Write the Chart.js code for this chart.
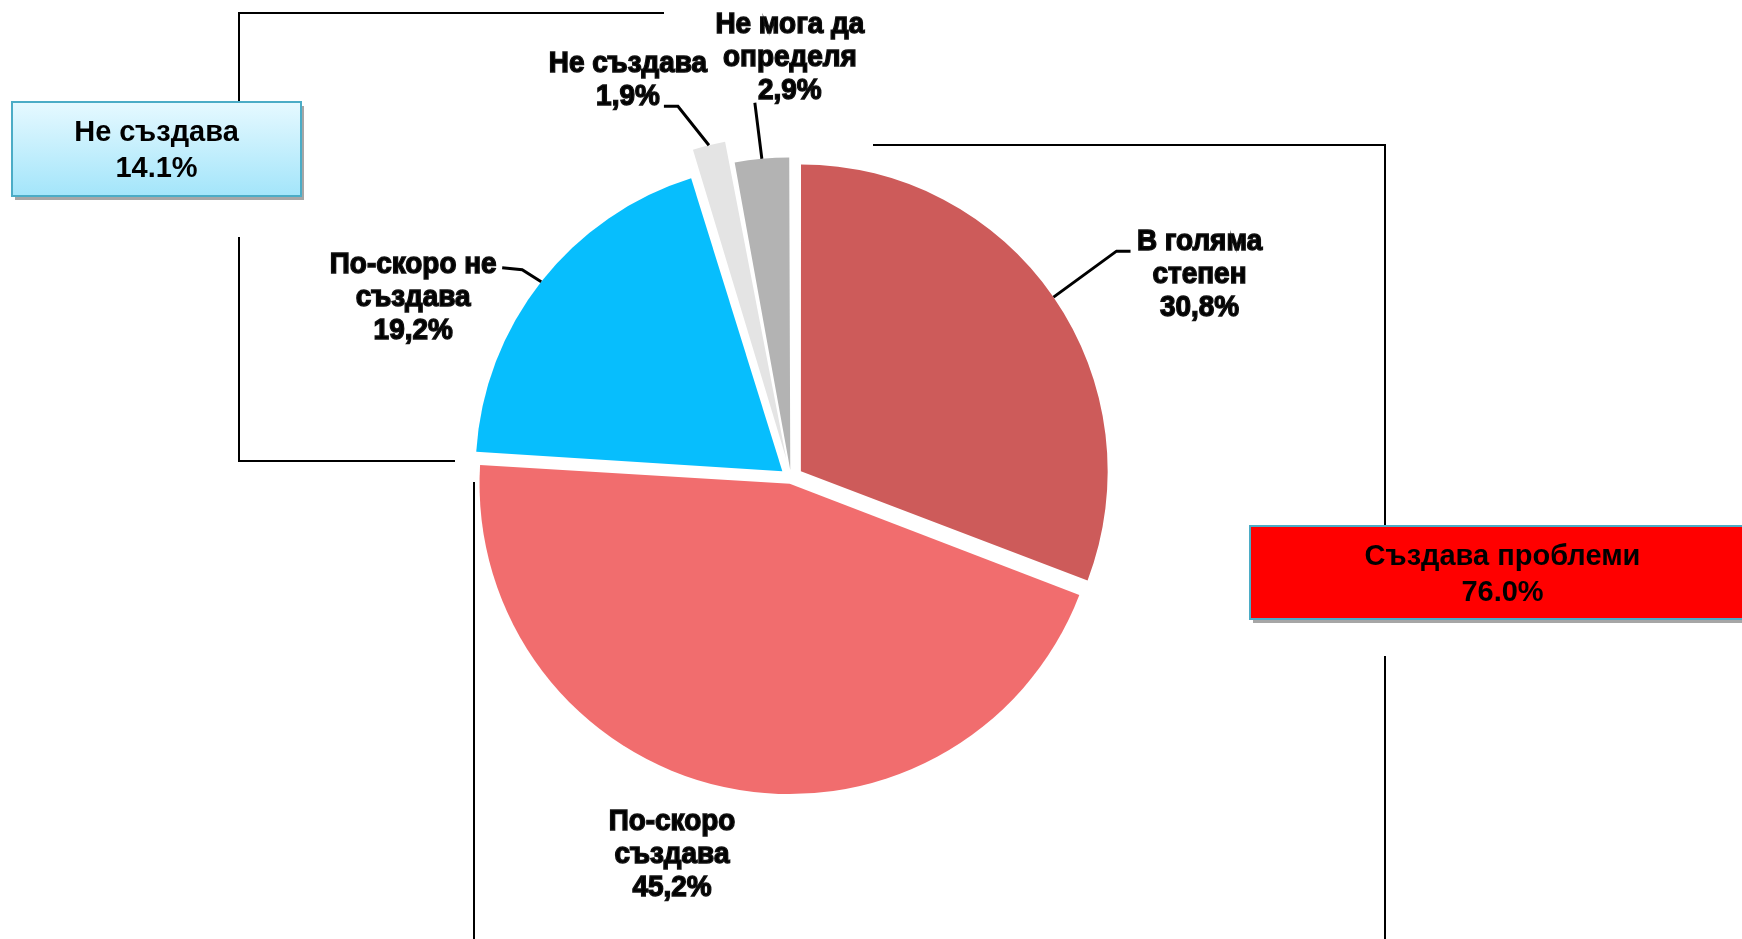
<!DOCTYPE html>
<html>
<head>
<meta charset="utf-8">
<script src="https://cdn.jsdelivr.net/npm/chart.js@4/dist/chart.umd.min.js"></script>
<style>
html, body { margin: 0; padding: 0; background: #fff; overflow: hidden; }
#wrap { width: 1742px; height: 939px; }
</style>
</head>
<body>
<div id="wrap"><canvas id="myChart"></canvas></div>
<script>
// data
var categories = [["В голяма", "степен"], ["По-скоро", "създава"], ["По-скоро не", "създава"], ["Не създава"], ["Не мога да", "определя"]];
var values = [30.8, 45.2, 19.2, 1.9, 2.9];
var groupNames = ["Не създава", "Създава проблеми"];
var groupValues = [14.1, 76.0];

var colors = ['#CD5B5A', '#F16D6E', '#07BEFD', '#E4E4E4', '#B3B3B3'];
var explode = [48, 24, 44, 78, 32];

// label placement relative to the outer edge of each slice
var labelPos = [
    {dx: 146, dy: -22, leader: [[63, -46], [77, -46]]},
    {dx: -52, dy: 68, leader: []},
    {dx: -128, dy: 16, leader: [[-19, -12], [-39, -14]]},
    {dx: -81, dy: -65, leader: [[-31, -39], [-45, -39]]},
    {dx: 28, dy: -101, leader: [[-7, -56]]}
];

function pct(v, sep) {
    return v.toFixed(1).replace('.', sep) + '%';
}

var sliceLabels = {
    id: 'sliceLabels',
    afterDatasetsDraw: function(chart) {
        var ctx = chart.ctx;
        var meta = chart.getDatasetMeta(0);
        meta.data.forEach(function(arc, i) {
            var p = arc.getProps(['x', 'y', 'startAngle', 'endAngle', 'outerRadius', 'circumference'], true);
            var off = (arc.options.offset || 0) / 4;
            var fix = 1 - Math.sin(Math.min(Math.PI, p.circumference));
            var mid = (p.startAngle + p.endAngle) / 2;
            var d = off + p.outerRadius + off * fix;
            var ax = p.x + Math.cos(mid) * d;
            var ay = p.y + Math.sin(mid) * d;
            var lp = labelPos[i];

            ctx.save();
            if (lp.leader.length) {
                ctx.strokeStyle = '#000';
                ctx.lineWidth = 3;
                ctx.beginPath();
                ctx.moveTo(ax, ay);
                lp.leader.forEach(function(pt) { ctx.lineTo(ax + pt[0], ay + pt[1]); });
                ctx.stroke();
            }
            var lines = categories[i].concat([pct(values[i], ',')]);
            var lh = 33;
            var cx = ax + lp.dx;
            var cy = ay + lp.dy - (lines.length - 1) * lh / 2;
            ctx.font = 'bold 30px "Liberation Sans", Arial, sans-serif';
            ctx.textAlign = 'center';
            ctx.textBaseline = 'middle';
            ctx.fillStyle = '#000';
            ctx.strokeStyle = '#111';
            ctx.lineWidth = 1.5;
            lines.forEach(function(t, k) {
                ctx.save();
                ctx.translate(cx, cy + k * lh);
                ctx.scale(0.93, 1);
                ctx.fillText(t, 0, 0);
                ctx.strokeText(t, 0, 0);
                ctx.restore();
            });
            ctx.restore();
        });
    }
};

function drawBox(ctx, x, y, w, h, fill, lines) {
    ctx.fillStyle = '#A6A6A6';
    ctx.fillRect(x + 3, y + 4, w, h);
    ctx.fillStyle = fill;
    ctx.fillRect(x, y, w, h);
    ctx.strokeStyle = '#4BACC6';
    ctx.lineWidth = 2;
    ctx.strokeRect(x, y, w, h);
    ctx.fillStyle = '#000';
    ctx.font = 'bold 29px "Liberation Sans", Arial, sans-serif';
    ctx.textAlign = 'center';
    ctx.textBaseline = 'middle';
    var lh = 36;
    var cy = y + h / 2 + 2 - (lines.length - 1) * lh / 2;
    lines.forEach(function(t, k) { ctx.fillText(t, x + w / 2, cy + k * lh); });
}

var groups = {
    id: 'groups',
    afterDraw: function(chart) {
        var ctx = chart.ctx;
        ctx.save();
        ctx.strokeStyle = '#000';
        ctx.lineWidth = 2;
        ctx.beginPath();
        // left bracket
        ctx.moveTo(664, 13); ctx.lineTo(239, 13); ctx.lineTo(239, 102);
        ctx.moveTo(239, 237); ctx.lineTo(239, 461); ctx.lineTo(455, 461);
        // right bracket
        ctx.moveTo(873, 145); ctx.lineTo(1385, 145); ctx.lineTo(1385, 526);
        ctx.moveTo(1385, 656); ctx.lineTo(1385, 939);
        // bottom-left
        ctx.moveTo(474, 482); ctx.lineTo(474, 939);
        ctx.stroke();

        var g = ctx.createLinearGradient(0, 102, 0, 196);
        g.addColorStop(0, '#E6F9FF');
        g.addColorStop(1, '#A3E5FA');
        drawBox(ctx, 12, 102, 289, 94, g, [groupNames[0], pct(groupValues[0], '.')]);
        drawBox(ctx, 1250, 526, 505, 93, '#FF0000', [groupNames[1], pct(groupValues[1], '.')]);
        ctx.restore();
    }
};

var ctx = document.getElementById('myChart');
var myChart = new Chart(ctx, {
    type: 'pie',
    data: {
        labels: categories,
        datasets: [{
            data: values,
            backgroundColor: colors,
            borderWidth: 0,
            offset: explode,
            radius: 306
        }]
    },
    options: {
        responsive: true,
        maintainAspectRatio: false,
        animation: false,
        layout: { padding: { left: 400, right: 560, top: 120, bottom: 103 } },
        plugins: {
            legend: { display: false },
            tooltip: { enabled: false }
        }
    },
    plugins: [sliceLabels, groups]
});
</script>
</body>
</html>
